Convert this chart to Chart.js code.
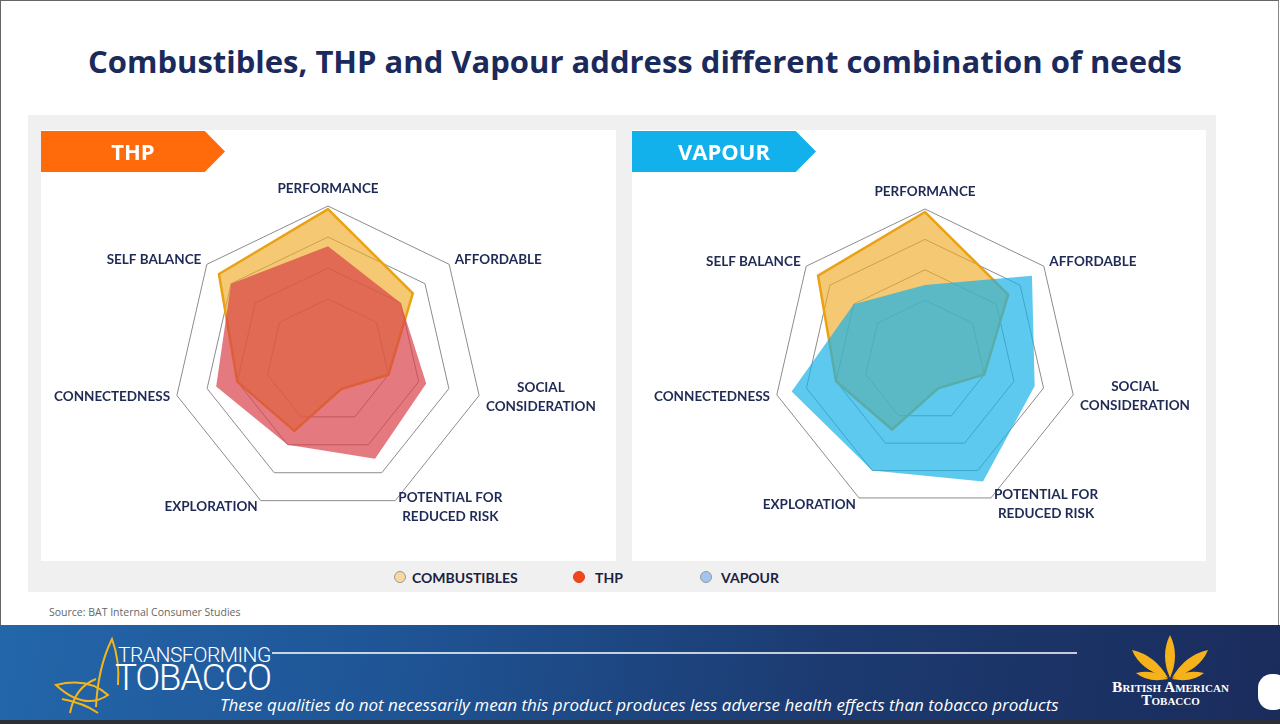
<!DOCTYPE html>
<html><head>
<title>Combustibles, THP and Vapour</title>
<script src="https://cdn.jsdelivr.net/npm/chart.js"></script>
<style>
  body {
    margin: 0;
    width: 1280px;
    height: 724px;
    overflow: hidden;
    background: #fff;
    font-family: "Open Sans", Arial, sans-serif;
    position: relative;
  }
  .frame {
    position: absolute; left: 0; top: 0; width: 1277px; height: 722px;
    border-left: 1px solid #666; border-top: 1px solid #666; border-right: 1px solid #888;
  }
  h1 {
    position: absolute; left: 0; width: 1270px; top: 40px; margin: 0;
    text-align: center; font-size: 31px; font-weight: 700; color: #1B2A5C;
  }
  .panel { position: absolute; left: 28px; top: 115px; width: 1188px; height: 477px; background: #f0f0f0; }
  .card { position: absolute; top: 130px; height: 431px; background: #fff; }
  .tab {
    position: absolute; top: 131px; height: 41px; color: #fff; font-weight: 700; font-size: 22px;
    line-height: 41px; text-align: center;
    clip-path: polygon(0 0, 89% 0, 100% 50%, 89% 100%, 0 100%);
    filter: drop-shadow(2px 2px 2px rgba(0,0,0,0.3));
  }
  .chartbox { position: absolute; top: 172px; height: 389px; }
  .legend {
    position: absolute; top: 568px; left: 0; width: 1280px; height: 20px;
    font-family: Lato, sans-serif; font-weight: 700; font-size: 14px; color: #1B2240;
  }
  .legend span { position: absolute; top: 1px; }
  .legend i {
    position: absolute; top: 3px; width: 12px; height: 12px; border-radius: 50%;
    border: 1px solid #999; box-sizing: border-box;
  }
  .source { position: absolute; left: 49px; top: 605px; font-size: 10.5px; color: #666; }
  .footer {
    position: absolute; left: 0; top: 625px; width: 1280px; height: 95px;
    background: linear-gradient(100deg, #2366aa 0%, #1f5596 30%, #1c3a70 65%, #1a2c5c 100%);
  }
  .strip { position: absolute; left: 0; top: 720px; width: 1280px; height: 4px; background: #2c2f36; }
  .disclaimer {
    position: absolute; left: 220px; top: 693px; font-style: italic; color: #fff; font-size: 17px;
  }
  .tt1 { position: absolute; left: 118px; top: 643px; color: #fff; font-family: Roboto, sans-serif; font-weight: 300; font-size: 21px; letter-spacing: -0.5px; }
  .tt2 { position: absolute; left: 115px; top: 656px; color: #fff; font-family: Roboto, sans-serif; font-weight: 300; font-size: 37px; letter-spacing: -1.4px; }
  .bat { position: absolute; left: 1098px; top: 680px; width: 145px; text-align: center; color: #fff;
    font-family: "Liberation Serif", serif; font-weight: 700; font-variant: small-caps; font-size: 15.5px; line-height: 13px; }
  .btn { position: absolute; left: 1258px; top: 674px; width: 30px; height: 36px; border-radius: 14px; background: #fff; }
</style>
</head>
<body>
<div class="frame"></div>
<h1>Combustibles, THP and Vapour address different combination of needs</h1>
<div class="panel"></div>
<div class="card" style="left:41px;width:575px"></div>
<div class="card" style="left:632px;width:574px"></div>
<div class="tab" style="left:41px;width:184px;background:#ff6a0a">THP</div>
<div class="tab" style="left:632px;width:184px;background:#13b1ec">VAPOUR</div>

<div class="chartbox" style="left:41px;width:575px"><canvas id="thpChart"></canvas></div>
<div class="chartbox" style="left:632px;width:574px"><canvas id="vapourChart"></canvas></div>

<div class="legend">
  <i style="left:394px;background:#fad9a1"></i><span style="left:412px">COMBUSTIBLES</span>
  <i style="left:573px;background:#f0461c;border-color:#e0401a"></i><span style="left:595px">THP</span>
  <i style="left:700px;background:#9fc6ee"></i><span style="left:721px">VAPOUR</span>
</div>

<div class="source">Source: BAT Internal Consumer Studies</div>

<div class="footer"></div>
<svg style="position:absolute;left:0;top:625px" width="1280" height="95">
  <line x1="272" y1="28" x2="1077" y2="28" stroke="#fff" stroke-width="1.5"/>
  <g fill="none" stroke="#f2b51d" stroke-width="2">
    <path d="M56 60 Q88 52 108 70 Q84 86 56 60 Z"/>
    <path d="M70 88 Q75 62 96 54"/>
    <path d="M96 82 Q98 42 112 14 Q120 36 118 60"/>
    <path d="M62 74 Q84 78 98 88"/>
  </g>
  <g fill="#f6b21b">
    <path d="M1170 53 Q1160 30 1170 10 Q1180 30 1170 53 Z"/>
    <path d="M1168 53 Q1140 45 1132 25 Q1155 30 1168 53 Z"/>
    <path d="M1172 53 Q1200 45 1208 25 Q1185 30 1172 53 Z"/>
    <path d="M1168 54 Q1148 58 1136 48 Q1155 44 1168 54 Z"/>
    <path d="M1172 54 Q1192 58 1204 48 Q1185 44 1172 54 Z"/>
  </g>
</svg>
<div class="tt1">TRANSFORMING</div>
<div class="tt2">TOBACCO</div>
<div class="disclaimer">These qualities do not necessarily mean this product produces less adverse health effects than tobacco products</div>
<div class="bat">British American<br>Tobacco</div>
<div class="btn"></div>
<div class="strip"></div>

<script>
  // Need categories (clockwise from top)
  const needs = [
    'PERFORMANCE',
    'AFFORDABLE',
    ['SOCIAL', 'CONSIDERATION'],
    ['POTENTIAL FOR', 'REDUCED RISK'],
    'EXPLORATION',
    'CONNECTEDNESS',
    'SELF BALANCE'
  ];

  // Scores (scale 0-5)
  const combustibles = [4.9, 3.5, 2.0, 1.0, 2.5, 3.0, 4.5];
  const thp = [3.7, 3.0, 3.25, 3.5, 3.0, 3.7, 4.0];
  const vapour = [2.5, 4.5, 3.7, 4.4, 4.0, 4.5, 3.0];

  const combFill = 'rgba(240, 170, 40, 0.65)';
  const combLine = '#e9a214';

  // point labels centred on the spoke direction, like the original slide
  const needLabels = {
    id: 'needLabels',
    afterDraw(chart) {
      const scale = chart.scales.r;
      const ctx = chart.ctx;
      const lh = 19;
      ctx.save();
      ctx.font = 'bold 13.5px Lato';
      ctx.fillStyle = '#1F2A55';
      ctx.textAlign = 'center';
      ctx.textBaseline = 'middle';
      chart.data.labels.forEach((label, i) => {
        const lines = [].concat(label);
        const p = scale.getPointPosition(i, scale.drawingArea + (i === 0 ? 8 : 7));
        const w = Math.max(...lines.map(l => ctx.measureText(l).width));
        let left;
        if (Math.abs(p.x - scale.xCenter) < 1) left = p.x - w / 2;
        else if (p.x > scale.xCenter) left = p.x;
        else left = p.x - w;
        const h = lines.length * lh;
        const top = i === 0 ? p.y - h : p.y - h / 2;
        lines.forEach((l, k) => ctx.fillText(l, left + w / 2, top + lh * k + lh / 2));
      });
      ctx.restore();
    }
  };

  function radarOptions(pad) {
    return {
      responsive: true,
      maintainAspectRatio: false,
      animation: false,
      layout: { padding: pad },
      plugins: { legend: { display: false }, tooltip: { enabled: false } },
      elements: { point: { radius: 0 }, line: { tension: 0 } },
      scales: {
        r: {
          min: 0,
          max: 5,
          ticks: { display: false, stepSize: 1 },
          angleLines: { display: false },
          grid: {
            color: ctx => (ctx.tick && ctx.tick.value <= 1) ? 'rgba(0,0,0,0)' : '#8c8c8c',
            lineWidth: 1
          },
          pointLabels: { display: false }
        }
      }
    };
  }

  new Chart(document.getElementById('thpChart'), {
    type: 'radar',
    data: {
      labels: needs,
      datasets: [
        { label: 'THP', data: thp, backgroundColor: 'rgba(216, 66, 72, 0.7)', borderWidth: 0, fill: true, order: 1 },
        { label: 'COMBUSTIBLES', data: combustibles, backgroundColor: combFill, borderColor: combLine, borderWidth: 2.5, fill: true, order: 2 }
      ]
    },
    options: radarOptions({ left: 132, right: 133, top: 34, bottom: 45 }),
    plugins: [needLabels]
  });

  new Chart(document.getElementById('vapourChart'), {
    type: 'radar',
    data: {
      labels: needs,
      datasets: [
        { label: 'VAPOUR', data: vapour, backgroundColor: 'rgba(25, 178, 232, 0.7)', borderWidth: 0, fill: true, order: 1 },
        { label: 'COMBUSTIBLES', data: combustibles, backgroundColor: combFill, borderColor: combLine, borderWidth: 2.5, fill: true, order: 2 }
      ]
    },
    options: radarOptions({ left: 141, right: 129, top: 37, bottom: 48 }),
    plugins: [needLabels]
  });
</script>
</body></html>
